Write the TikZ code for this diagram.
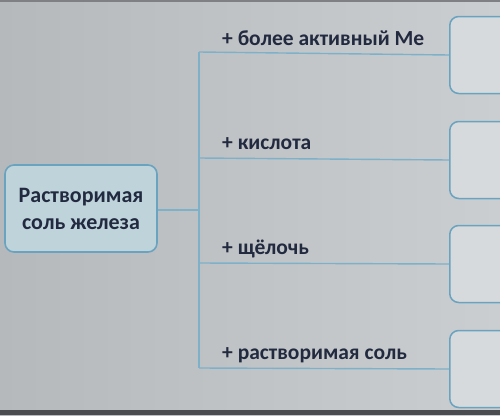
\documentclass[tikz,border=0pt]{standalone}
\usepackage{fontspec}
\setmainfont{Carlito}
\definecolor{bgc}{HTML}{CBCED0}
\definecolor{bgl}{HTML}{B6B9BC}
\definecolor{boxfill}{HTML}{BFD3DB}
\definecolor{boxline}{HTML}{6AA3BF}
\definecolor{linec}{HTML}{7DB0C9}
\definecolor{txt}{HTML}{222A40}
\definecolor{rbox}{HTML}{D6DADC}
\definecolor{edge}{HTML}{4A4C50}
\tikzset{
  mainbox/.style={draw=boxline, line width=1.6pt, fill=boxfill, rounded corners=9pt,
    minimum width=152pt, minimum height=87pt, inner sep=0pt, align=center,
    text=txt, font=\fontsize{22}{27}\selectfont\bfseries},
  rightbox/.style={draw=boxline, line width=1.5pt, fill=rbox, rounded corners=9pt,
    minimum width=80pt, minimum height=77pt, inner sep=0pt, anchor=west},
  lbl/.style={anchor=base west, inner sep=0pt, text=txt, font=\fontsize{21.5}{24}\selectfont\bfseries},
  conn/.style={draw=linec, line width=1.4pt}
}
\begin{document}
\begin{tikzpicture}[x=1pt,y=-1pt]
\useasboundingbox (0,0) rectangle (500,415);
\shade[left color=bgl, right color=bgc] (0,0) rectangle (500,415);
\fill[edge] (0,410) rectangle (500,415);
\fill[edge!60!bgc] (0,0) rectangle (500,2);
% main box
\node[mainbox] (src) at (81,208.5) {Растворимая\\соль железа};
% right boxes
\node[rightbox] (r1) at (449,55) {};
\node[rightbox] (r2) at (449,160) {};
\node[rightbox] (r3) at (449,264) {};
\node[rightbox] (r4) at (449,369) {};
% junction
\coordinate (j) at (199,210);
\coordinate (t) at (199,52);
\coordinate (b) at (199,368);
\draw[conn] (src.east |- j) -- (j);
\draw[conn] (t) -- (b);
\draw[conn] (t) -- (r1.west);
\draw[conn] (199,158) coordinate (c2) -- (r2.west);
\draw[conn] (199,263) coordinate (c3) -- (r3.west);
\draw[conn] (b) -- (r4.west);
% labels
\node[lbl] (l1) at (222,45) {+ более активный Ме};
\node[lbl] (l2) at (222,149) {+ кислота};
\node[lbl] (l3) at (222,254) {+ щёлочь};
\node[lbl] (l4) at (222,359) {+ растворимая соль};
\end{tikzpicture}
\end{document}
